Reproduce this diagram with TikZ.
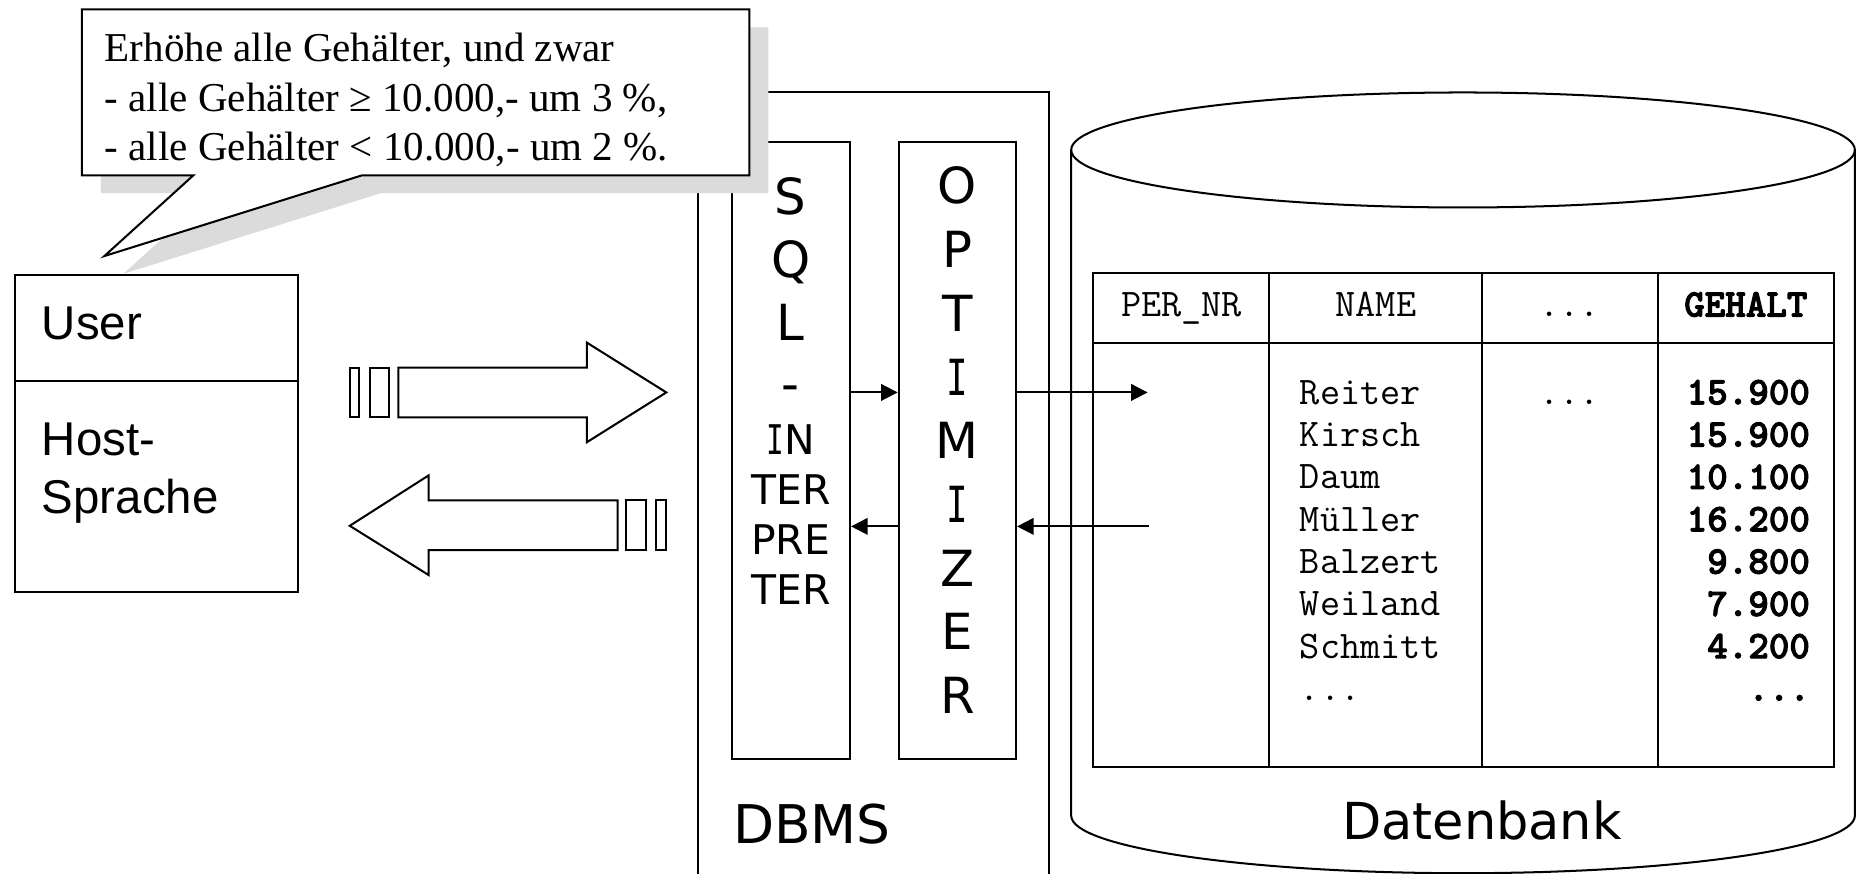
\documentclass[tikz,border=0pt]{standalone}
\usepackage{graphicx}
\usepackage{fontspec}
\setmainfont{Liberation Serif}
\newfontfamily\arialf{Liberation Sans}
\newfontfamily\vera{DejaVu Sans}
\newfontfamily\veramono{DejaVu Sans Mono}
\newfontfamily\ttbold[FakeBold=2.5]{lmmonolt10-bold.otf}
\usetikzlibrary{arrows.meta}
% serifed capital I in the Verdana manner
\newcommand\verI{\scalebox{0.72}[1]{\veramono I}}
\newcommand\tdots{...}

\begin{document}
\begin{tikzpicture}[x=0.5pt,y=-0.5pt,
  outline/.style={draw=black,line width=0.85pt},
  boxnode/.style={outline,inner sep=0pt,fill=white},
  flow/.style={line width=0.85pt,-{Triangle[length=7pt,width=7pt]}},
  bigch/.style={font=\vera\fontsize{21}{25}\selectfont,anchor=base,inner sep=0pt},
  smallch/.style={font=\vera\fontsize{17.25}{20}\selectfont,anchor=base,inner sep=0pt},
  cell/.style={font=\ttfamily\fontsize{16.5}{19}\selectfont,inner sep=0pt},
  cellbf/.style={font=\ttbold\fontsize{16.5}{19}\selectfont,inner sep=0pt},
  reqline/.style={font=\fontsize{17.3}{21}\selectfont,anchor=base west,inner sep=0pt},
  userline/.style={font=\arialf\fontsize{20}{24}\selectfont,anchor=base west,inner sep=0pt},
  shade/.style={fill=black!14},
]
\useasboundingbox (0,0) rectangle (1568,737);

% DBMS container (open at the bottom)
\draw[outline] (589,737) -- (589,77.5) -- (885,77.5) -- (885,737);
\node[font=\vera\fontsize{22.5}{27}\selectfont,anchor=base west,inner sep=0pt] (dbmslbl) at (618,711.5) {DBMS};

% SQL interpreter and optimizer
\node[boxnode,minimum width=49.7pt,minimum height=260pt] (sql) at (667.3,380) {};
\node[boxnode,minimum width=49.5pt,minimum height=260pt] (opt) at (807.5,380) {};

\foreach \t/\y [count=\i] in {S/180.6,Q/234,L/287.6,-/339}
  \node[bigch] (sqlch\i) at (667,\y) {\t};
\foreach \t/\y [count=\i] in {{\verI N}/383.6,TER/425.8,PRE/467.8,TER/509.6}
  \node[smallch] (intch\i) at (667,\y) {\t};
\foreach \t [count=\i] in {O,P,T,\verI,M,\verI,Z,E,R}
  \node[bigch] (optch\i) at (807.5,{172+53.75*(\i-1)}) {\t};

\draw[flow] ([yshift=24.5pt]sql.east) -- ([yshift=24.5pt]opt.west);
\draw[flow] ([yshift=-32pt]opt.west) -- ([yshift=-32pt]sql.east);

% speech bubble with shadow, lying over the DBMS
\fill[shade,shift={(16,15)}] (69,8) -- (632,8) -- (632,148) -- (305,148) -- (88,216) -- (163,148) -- (69,148) -- cycle;
\draw[outline,fill=white] (69,8) -- (632,8) -- (632,148) -- (305,148) -- (88,216) -- (163,148) -- (69,148) -- cycle;
\node[reqline] (req1) at (88,52) {Erhöhe alle Gehälter, und zwar};
\node[reqline] (req2) at (88,94) {- alle Gehälter ≥ 10.000,- um 3 \%,};
\node[reqline] (req3) at (88,135) {- alle Gehälter < 10.000,- um 2 \%.};

% user / host language box
\node[boxnode,minimum width=119pt,minimum height=133.75pt] (user) at (132,365.75) {};
\coordinate (ydiv) at (0,321);
\draw[outline] (user.west |- ydiv) -- (user.east |- ydiv);
\node[userline] (userlbl) at (35,286) {User};
\node[userline] (host1) at (35,384.6) {Host-};
\node[userline] (host2) at (35,433) {Sprache};

% block arrows between user and DBMS
\draw[outline] (336,310) -- (495,310) -- (495,289) -- (562,331) -- (495,373) -- (495,352) -- (336,352) -- cycle;
\draw[outline] (295,310) rectangle (303,352);
\draw[outline] (312,310) rectangle (328,352);
\draw[outline] (521,422) -- (361.5,422) -- (361.5,401) -- (295,443.5) -- (361.5,485) -- (361.5,464) -- (521,464) -- cycle;
\draw[outline] (528,422) rectangle (545,464);
\draw[outline] (553,422) rectangle (562,464);

% database cylinder
\draw[outline] (903.5,126.5) -- (903.5,688) arc[start angle=180,end angle=0,x radius=330.5,y radius=48.5] -- (1564.5,126.5);
\draw[outline] (1234,126.5) ellipse[x radius=330.5,y radius=48.5];
\node[font=\vera\fontsize{21.5}{26}\selectfont,anchor=base,inner sep=0pt] (dblbl) at (1250,708) {Datenbank};

% relation table
\node[outline,inner sep=0pt,minimum width=312.5pt,minimum height=208.25pt] (table) at (1234.5,438.75) {};
\coordinate (yhead) at (0,289.5);
\draw[outline] (table.west |- yhead) -- (table.east |- yhead);
\foreach \x in {1070.6,1250,1398.6}
  \draw[outline] (\x,230.5) -- (\x,647);

\node[cell,anchor=base] (hpnr) at (996.5,267) {PER\_NR};
\node[cell,anchor=base] (hname) at (1160.5,267) {NAME};
\node[cell,anchor=base] (hdots) at (1324,267) {\tdots};
\node[cellbf,anchor=base] (hgeh) at (1472.5,267) {GEHALT};
\node[cell,anchor=base] (rdots) at (1324,341) {\tdots};

\foreach \n/\g [count=\i] in {Reiter/15.900,Kirsch/15.900,Daum/10.100,Müller/16.200,Balzert/9.800,Weiland/7.900,Schmitt/4.200,\tdots/\tdots}{
  \node[cell,anchor=base west] (name\i) at (1096,{341+35.7*(\i-1)}) {\n};
  \node[cellbf,anchor=base east] (geh\i) at (1527,{341+35.7*(\i-1)}) {\g};
}

% flows between optimizer and stored data
\coordinate (dbin) at (968,331);
\coordinate (dbout) at (969,444);
\draw[flow] ([yshift=24.5pt]opt.east) -- (dbin);
\draw[flow] (dbout) -- ([yshift=-32pt]opt.east);
\end{tikzpicture}
\end{document}
